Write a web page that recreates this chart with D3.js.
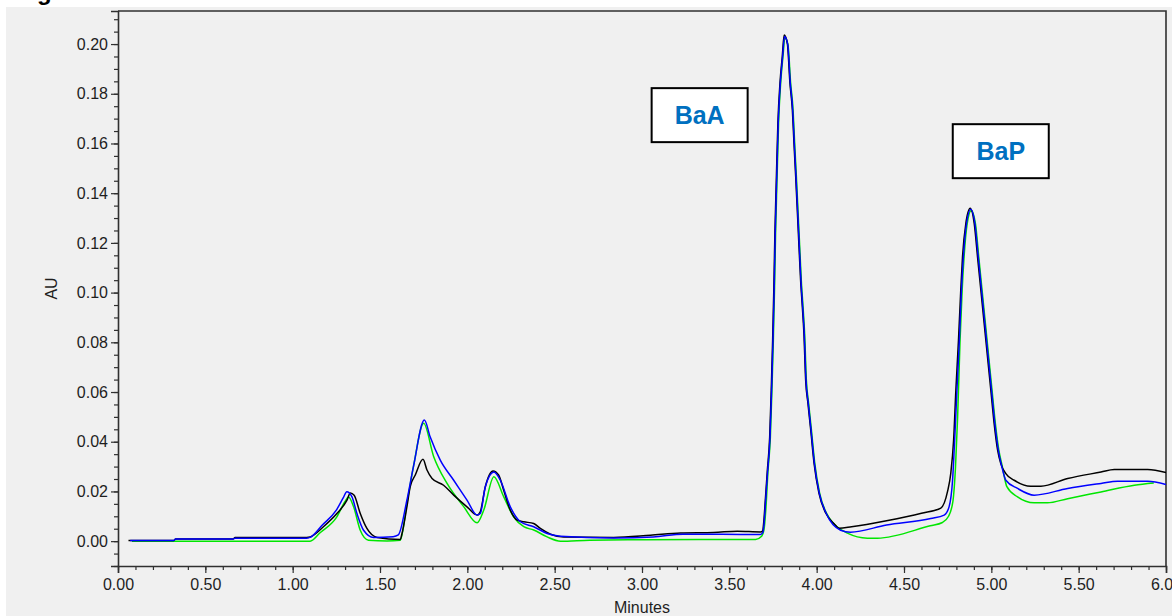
<!DOCTYPE html>
<html>
<head>
<meta charset="utf-8">
<script src="https://cdn.jsdelivr.net/npm/d3@7"></script>
<style>
  html, body { margin: 0; padding: 0; background: #ffffff; }
  svg { display: block; }
  text { font-family: "Liberation Sans", Arial, sans-serif; }
</style>
</head>
<body>
<svg id="chart" width="1172" height="616"></svg>
<script>
// Chromatogram: absorbance (AU) vs retention time (minutes), three overlaid runs.

// Run 1 (black trace): retention time / absorbance pairs
const blackTime = [0.06,0.32,0.33,0.66,0.67,1.08,1.100,1.176,1.253,1.311,1.330,1.352,1.387,1.425,1.483,1.616,1.626,1.654,1.673,1.702,1.746,1.769,1.798,1.864,1.922,1.998,2.056,2.074,2.103,2.147,2.179,2.208,2.246,2.285,2.323,2.380,2.418,2.476,2.552,2.838,3.049,3.221,3.411,3.546,3.679,3.690,3.698,3.706,3.717,3.731,3.740,3.748,3.755,3.761,3.769,3.778,3.790,3.803,3.814,3.832,3.847,3.861,3.870,3.880,3.889,3.899,3.908,3.918,3.927,3.937,3.950,3.966,3.985,4.013,4.052,4.100,4.128,4.200,4.400,4.600,4.711,4.749,4.768,4.784,4.797,4.812,4.825,4.835,4.854,4.879,4.902,4.921,4.940,4.959,4.978,4.997,5.016,5.036,5.054,5.083,5.131,5.226,5.284,5.437,5.628,5.704,5.895,6.000];
const blackAU = [0.0003,0.0003,0.0009,0.0009,0.0015,0.0015,0.0017,0.0058,0.0111,0.0165,0.0194,0.0185,0.0111,0.0051,0.0015,0.0007,0.0031,0.0138,0.0219,0.0266,0.0329,0.0286,0.0252,0.0225,0.0185,0.0138,0.0105,0.0118,0.0219,0.0282,0.0266,0.0205,0.0125,0.0085,0.0078,0.0071,0.0051,0.0028,0.0017,0.0015,0.0024,0.0033,0.0035,0.0040,0.0037,0.0040,0.0085,0.0165,0.0278,0.0419,0.0608,0.0809,0.1022,0.1243,0.1453,0.1682,0.1843,0.1949,0.2036,0.2004,0.1843,0.1734,0.1602,0.1465,0.1332,0.1183,0.1050,0.0942,0.0837,0.0648,0.0555,0.0447,0.0314,0.0193,0.0113,0.0070,0.0052,0.0058,0.0082,0.0112,0.0133,0.0199,0.0274,0.0406,0.0608,0.0809,0.1010,0.1144,0.1278,0.1339,0.1278,0.1144,0.1010,0.0876,0.0742,0.0608,0.0474,0.0366,0.0312,0.0272,0.0245,0.0221,0.0221,0.0252,0.0278,0.0288,0.0288,0.0276];

// Run 2 (blue trace)
const blueTime = [0.07,0.32,0.33,0.66,0.67,1.08,1.100,1.170,1.250,1.290,1.310,1.339,1.368,1.406,1.463,1.575,1.605,1.654,1.692,1.754,1.787,1.845,1.922,1.998,2.056,2.074,2.103,2.152,2.189,2.246,2.304,2.380,2.457,2.533,2.838,3.065,3.236,3.679,3.692,3.700,3.708,3.719,3.733,3.742,3.750,3.757,3.763,3.771,3.780,3.792,3.805,3.816,3.834,3.849,3.863,3.872,3.882,3.891,3.901,3.910,3.920,3.929,3.939,3.952,3.968,3.987,4.015,4.054,4.137,4.194,4.400,4.653,4.730,4.758,4.778,4.790,4.803,4.817,4.829,4.840,4.858,4.882,4.906,4.925,4.944,4.963,4.982,5.001,5.020,5.040,5.060,5.083,5.150,5.245,5.437,5.628,5.723,5.895,6.000];
const blueAU = [0.0003,0.0003,0.0009,0.0009,0.0012,0.0012,0.0015,0.0065,0.0125,0.0175,0.0199,0.0179,0.0111,0.0044,0.0015,0.0018,0.0025,0.0165,0.0302,0.0487,0.0420,0.0326,0.0245,0.0165,0.0105,0.0111,0.0219,0.0278,0.0245,0.0138,0.0078,0.0058,0.0031,0.0020,0.0013,0.0017,0.0028,0.0027,0.0035,0.0080,0.0165,0.0278,0.0419,0.0608,0.0809,0.1022,0.1243,0.1453,0.1682,0.1843,0.1949,0.2030,0.2000,0.1843,0.1734,0.1602,0.1465,0.1332,0.1183,0.1050,0.0942,0.0837,0.0648,0.0555,0.0447,0.0314,0.0193,0.0113,0.0044,0.0036,0.0065,0.0091,0.0105,0.0138,0.0245,0.0406,0.0608,0.0809,0.1010,0.1144,0.1278,0.1335,0.1278,0.1144,0.1010,0.0876,0.0742,0.0608,0.0474,0.0366,0.0300,0.0245,0.0212,0.0185,0.0212,0.0232,0.0241,0.0241,0.0228];

// Run 3 (green trace)
const greenTime = [0.08,1.08,1.100,1.157,1.253,1.300,1.320,1.349,1.387,1.434,1.540,1.616,1.654,1.692,1.750,1.807,1.883,1.979,2.056,2.094,2.152,2.208,2.265,2.323,2.380,2.457,2.533,2.700,3.000,3.650,3.685,3.698,3.710,3.721,3.735,3.744,3.752,3.759,3.765,3.773,3.782,3.794,3.807,3.818,3.836,3.851,3.865,3.874,3.884,3.893,3.903,3.912,3.922,3.931,3.941,3.954,3.970,3.989,4.017,4.056,4.176,4.290,4.348,4.650,4.720,4.755,4.780,4.795,4.807,4.821,4.833,4.844,4.862,4.885,4.909,4.928,4.947,4.966,4.985,5.004,5.023,5.043,5.063,5.089,5.150,5.245,5.321,5.437,5.628,5.819,5.930];
const greenAU = [0.0000,0.0000,0.0000,0.0034,0.0098,0.0160,0.0178,0.0138,0.0044,0.0004,0.0001,0.0004,0.0151,0.0302,0.0474,0.0341,0.0233,0.0139,0.0074,0.0125,0.0259,0.0179,0.0098,0.0058,0.0045,0.0017,0.0000,0.0004,0.0006,0.0007,0.0020,0.0044,0.0138,0.0278,0.0419,0.0608,0.0809,0.1022,0.1243,0.1453,0.1682,0.1843,0.1949,0.2025,0.1995,0.1843,0.1734,0.1602,0.1465,0.1332,0.1183,0.1050,0.0942,0.0837,0.0648,0.0555,0.0447,0.0314,0.0193,0.0113,0.0032,0.0012,0.0012,0.0062,0.0075,0.0100,0.0160,0.0300,0.0500,0.0809,0.1010,0.1144,0.1278,0.1330,0.1278,0.1144,0.1010,0.0876,0.0742,0.0608,0.0474,0.0366,0.0300,0.0219,0.0178,0.0154,0.0154,0.0171,0.0198,0.0225,0.0234];

// Axis settings
const xDomain = [0, 6.0];
const yDomain = [-0.01, 0.2133];
const xMajorTicks = [0, 0.5, 1.0, 1.5, 2.0, 2.5, 3.0, 3.5, 4.0, 4.5, 5.0, 5.5, 6.0];
const yMajorTicks = [0, 0.02, 0.04, 0.06, 0.08, 0.10, 0.12, 0.14, 0.16, 0.18, 0.20];

// Peak labels (box centre in data coordinates)
const peakLabels = ["BaA", "BaP"];
const peakLabelTime = [3.33, 5.054];
const peakLabelAU = [0.1714, 0.1569];

const W = 1172, H = 616;
const margin = { left: 118, top: 11, right: 6, bottom: 50 };
const svg = d3.select("#chart");

// grey panel behind the chart
svg.append("rect").attr("x", 6).attr("y", 7).attr("width", W - 6).attr("height", H - 7).attr("fill", "#f0f0f0");

// caption fragment at the top edge
svg.append("text").attr("x", 37).attr("y", 0).attr("font-size", 24).attr("font-weight", "bold").attr("fill", "#000").text("g");

const x = d3.scaleLinear().domain(xDomain).range([margin.left, W - margin.right]);
const y = d3.scaleLinear().domain(yDomain).range([H - margin.bottom, margin.top]);

const axisColor = "#303030";
const textColor = "#1e1e1e";

// minor ticks
const xMinor = d3.range(0, 60.5, 1).map(d => d / 10);
const yMinor = d3.range(-2, 43, 1).map(d => d * 0.005).filter(d => d <= yDomain[1]);

const gx = svg.append("g").attr("transform", `translate(0,${H - margin.bottom})`);
gx.call(d3.axisBottom(x).tickValues(xMinor).tickSize(4).tickFormat(""));
gx.call(g => g.select(".domain").remove());
const gx2 = svg.append("g").attr("transform", `translate(0,${H - margin.bottom})`)
  .call(d3.axisBottom(x).tickValues(xMajorTicks).tickSize(7).tickPadding(6).tickFormat(d3.format(".2f")));
[gx, gx2].forEach(g => {
  g.selectAll("line").attr("stroke", axisColor).attr("stroke-width", 1.2);
  g.selectAll("text").attr("font-size", 16).attr("fill", textColor).attr("font-family", "Liberation Sans, Arial, sans-serif");
});
gx2.select(".domain").attr("stroke", axisColor).attr("stroke-width", 1.6);

const gy = svg.append("g").attr("transform", `translate(${margin.left},0)`);
gy.call(d3.axisLeft(y).tickValues(yMinor).tickSize(4).tickFormat(""));
gy.call(g => g.select(".domain").remove());
const gy2 = svg.append("g").attr("transform", `translate(${margin.left},0)`)
  .call(d3.axisLeft(y).tickValues(yMajorTicks).tickSize(7).tickPadding(3).tickFormat(d3.format(".2f")));
[gy, gy2].forEach(g => {
  g.selectAll("line").attr("stroke", axisColor).attr("stroke-width", 1.2);
  g.selectAll("text").attr("font-size", 16).attr("fill", textColor).attr("font-family", "Liberation Sans, Arial, sans-serif");
});
gy2.select(".domain").attr("stroke", axisColor).attr("stroke-width", 1.6);

// frame: top and right edges
svg.append("path")
  .attr("d", `M${x(xDomain[0])},${y(yDomain[1])}H${x(xDomain[1])}V${y(yDomain[0])}`)
  .attr("fill", "none").attr("stroke", axisColor).attr("stroke-width", 1.6);

// axis titles
svg.append("text").attr("x", (x.range()[0] + x.range()[1]) / 2).attr("y", 613)
  .attr("text-anchor", "middle").attr("font-size", 16).attr("fill", textColor).text("Minutes");
svg.append("text").attr("transform", `translate(57,${(y.range()[0] + y.range()[1]) / 2}) rotate(-90)`)
  .attr("text-anchor", "middle").attr("font-size", 16).attr("fill", textColor).text("AU");

// traces
svg.append("clipPath").attr("id", "plotClip").append("rect")
  .attr("x", x.range()[0]).attr("y", y.range()[1])
  .attr("width", x.range()[1] - x.range()[0]).attr("height", y.range()[0] - y.range()[1]);

const line = d3.line().curve(d3.curveMonotoneX).x(d => x(d[0])).y(d => y(d[1]));
const traces = [
  { t: greenTime, v: greenAU, color: "#00e600" },
  { t: blackTime, v: blackAU, color: "#000000" },
  { t: blueTime, v: blueAU, color: "#0000ff" }
];
const plot = svg.append("g").attr("clip-path", "url(#plotClip)");
traces.forEach(s => {
  plot.append("path")
    .datum(s.t.map((t, i) => [t, s.v[i]]))
    .attr("d", line)
    .attr("fill", "none")
    .attr("stroke", s.color)
    .attr("stroke-width", 1.5)
    .attr("stroke-linejoin", "round");
});

// peak label boxes
const boxW = 96, boxH = 54;
peakLabels.forEach((lab, i) => {
  const cx = x(peakLabelTime[i]), cy = y(peakLabelAU[i]);
  svg.append("rect").attr("x", cx - boxW / 2).attr("y", cy - boxH / 2)
    .attr("width", boxW).attr("height", boxH)
    .attr("fill", "#ffffff").attr("stroke", "#000").attr("stroke-width", 2);
  svg.append("text").attr("x", cx).attr("y", cy + 9)
    .attr("text-anchor", "middle").attr("font-size", 25).attr("font-weight", "bold")
    .attr("fill", "#0070c0").text(lab);
});
</script>
</body>
</html>
